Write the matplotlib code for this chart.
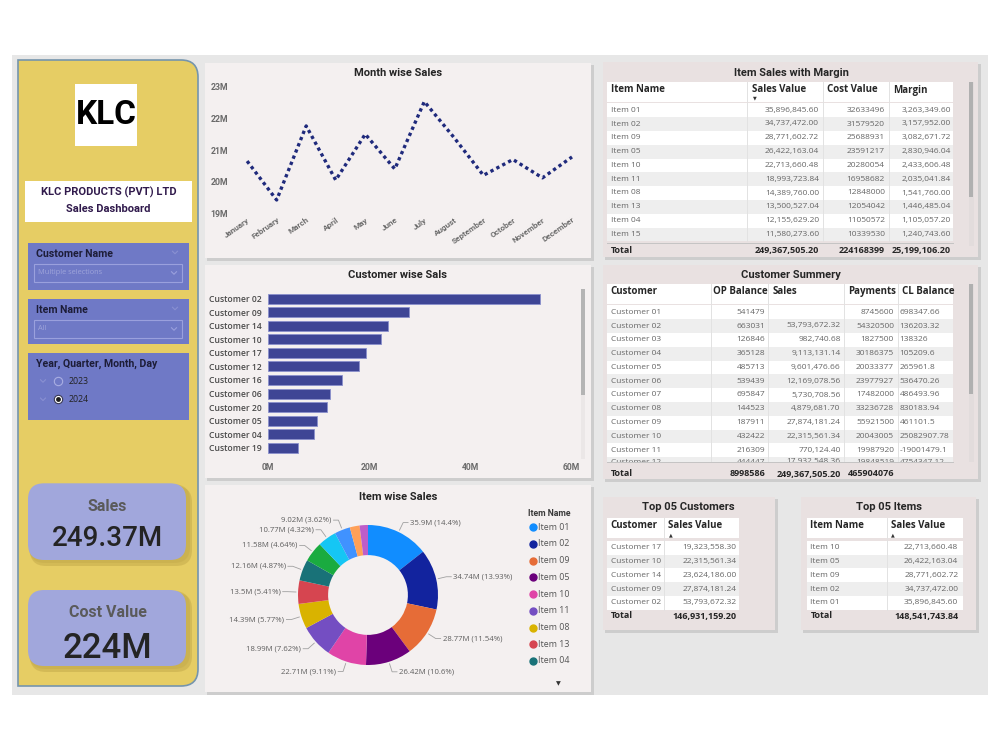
import matplotlib.pyplot as plt
from matplotlib.patches import Rectangle, FancyBboxPatch, PathPatch
from matplotlib.path import Path
import numpy as np

plt.rcParams['font.family'] = ['Open Sans', 'DejaVu Sans']
TITLE = ['Roboto', 'DejaVu Sans']

# ---------------- data ----------------
months = ['January', 'February', 'March', 'April', 'May', 'June', 'July',
          'August', 'September', 'October', 'November', 'December']
month_sales = [20.65, 19.42, 21.76, 20.05, 21.50, 20.40, 22.53, 21.40, 20.20, 20.70, 20.12, 20.78]

cust_names = ['Customer 02', 'Customer 09', 'Customer 14', 'Customer 10', 'Customer 17', 'Customer 12',
              'Customer 16', 'Customer 06', 'Customer 20', 'Customer 05', 'Customer 04', 'Customer 19']
cust_sales = [53.79, 27.87, 23.62, 22.32, 19.32, 17.90, 14.60, 12.17, 11.70, 9.60, 9.11, 5.80]

item_names = ['Item 01', 'Item 02', 'Item 09', 'Item 05', 'Item 10', 'Item 11', 'Item 08',
              'Item 13', 'Item 04', 'Item 15', 'Item 12', 'Item 03', 'Item 14', 'Item 06']
item_sales = [35.8968456, 34.737472, 28.77160272, 26.42216304, 22.71366048, 18.99372384,
              14.38976, 13.50052704, 12.1556292, 11.5802736, 10.77, 9.02, 5.61, 4.81]
item_colors = ['#118DFF', '#12239E', '#E66C37', '#6B007B', '#E044A7', '#744EC2', '#D9B300',
               '#D64550', '#197278', '#1AAB40', '#15C6F4', '#4092FF', '#FFA058', '#BE5DC9']
n_pie_labels = 12
n_legend = 9

tbl_items = ['Item 01', 'Item 02', 'Item 09', 'Item 05', 'Item 10', 'Item 11', 'Item 08',
             'Item 13', 'Item 04', 'Item 15']
tbl_sales = [35896845.60, 34737472.00, 28771602.72, 26422163.04, 22713660.48, 18993723.84,
             14389760.00, 13500527.04, 12155629.20, 11580273.60]
tbl_cost = [32633496, 31579520, 25688931, 23591217, 20280054, 16958682, 12848000, 12054042,
            11050572, 10339530]
total_sales = 249367505.20
total_cost = 224168399

cs_names = ['Customer 01', 'Customer 02', 'Customer 03', 'Customer 04', 'Customer 05', 'Customer 06',
            'Customer 07', 'Customer 08', 'Customer 09', 'Customer 10', 'Customer 11', 'Customer 12']
cs_op = [541479, 663031, 126846, 365128, 485713, 539439, 695847, 144523, 187911, 432422, 216309, 444447]
cs_sales = [None, 53793672.32, 982740.68, 9113131.14, 9601476.66, 12169078.56, 5730708.56,
            4879681.70, 27874181.24, 22315561.34, 770124.40, 17932548.36]
cs_pay = [8745600, 54320500, 1827500, 30186375, 20033377, 23977927, 17482000, 33236728, 55921500,
          20043005, 19987920, 19848519]
cs_cl = ['698347.66', '136203.32', '138326', '105209.6', '265961.8', '536470.26', '486493.96',
         '830183.94', '461101.5', '25082907.78', '-19001479.1', '4754347.12']
cs_total_op = 8998586
cs_total_pay = 465904076

top_cust = ['Customer 17', 'Customer 10', 'Customer 14', 'Customer 09', 'Customer 02']
top_cust_sales = [19323558.30, 22315561.34, 23624186.00, 27874181.24, 53793672.32]
top_items = ['Item 10', 'Item 05', 'Item 09', 'Item 02', 'Item 01']
top_item_sales = [22713660.48, 26422163.04, 28771602.72, 34737472.00, 35896845.60]

# ---------------- canvas ----------------
fig = plt.figure(figsize=(10, 7.5), dpi=100)
bg = fig.add_axes([0, 0, 1, 1])
bg.set_xlim(0, 1000)
bg.set_ylim(750, 0)
bg.axis('off')


def px_axes(x0, y0, x1, y1):
    return fig.add_axes([x0 / 1000, 1 - y1 / 750, (x1 - x0) / 1000, (y1 - y0) / 750])


def rect(x0, y0, x1, y1, fc, z=1, ec='none', lw=0):
    p = Rectangle((x0, y0), x1 - x0, y1 - y0, facecolor=fc, edgecolor=ec, linewidth=lw, zorder=z)
    bg.add_patch(p)
    return p


def rrect(x0, y0, x1, y1, fc, r, z=1, alpha=1.0):
    p = FancyBboxPatch((x0, y0), x1 - x0, y1 - y0, boxstyle=f'round,pad=0,rounding_size={r}',
                       facecolor=fc, edgecolor='none', zorder=z, alpha=alpha)
    bg.add_patch(p)
    return p


def text(x, y, s, size, color='#333333', weight='normal', ha='left', va='center', family=None, z=6):
    kw = {'family': family} if family else {}
    return bg.text(x, y, s, fontsize=size, color=color, fontweight=weight, ha=ha, va=va,
                   zorder=z, **kw)


def chevron(x, y, color, w=5, h=2.5):
    bg.plot([x - w / 2, x, x + w / 2], [y - h / 2, y + h / 2, y - h / 2], color=color, lw=0.8, zorder=6)


def money(v):
    return f'{v:,.2f}'


rect(12, 55, 988, 695, '#e7e7e7', z=0)

# ---------------- left panel ----------------
r = 17
x0, y0, x1, y1 = 18, 60, 198, 686
verts = [(x0, y0), (x1 - r, y0), (x1, y0), (x1, y0 + r), (x1, y1 - r), (x1, y1), (x1 - r, y1),
         (x0, y1), (x0, y0)]
codes = [Path.MOVETO, Path.LINETO, Path.CURVE3, Path.CURVE3, Path.LINETO, Path.CURVE3, Path.CURVE3,
         Path.LINETO, Path.CLOSEPOLY]
bg.add_patch(PathPatch(Path(verts, codes), facecolor='#e6cd64', edgecolor='#7595ad', lw=1.2, zorder=1))

rect(75, 84, 137, 146, 'white', z=3)
text(106, 115.5, 'KLC', 24, 'black', 'bold', ha='center', family=TITLE)

rect(25, 181, 192, 222, 'white', z=3)
text(108.5, 192.7, 'KLC PRODUCTS (PVT) LTD', 8, '#301a4c', 'bold', ha='center', family=TITLE)
text(108.5, 209.3, 'Sales Dashboard', 8, '#301a4c', 'bold', ha='center', family=TITLE)


def slicer(top, bottom, title, value):
    rect(28, top, 189, bottom, '#6f79c6', z=3)
    text(35.7, top + 11, title, 7.6, '#1d1d38', 'bold', family=TITLE)
    chevron(175, top + 9.5, '#8990d2')
    rect(34, top + 21, 182, top + 39, 'none', z=4, ec='#9aa0dd', lw=0.8)
    text(37.5, top + 30, value, 5.3, '#9ea4da')
    chevron(174, top + 30, '#9aa0dd')


slicer(243, 290, 'Customer Name', 'Multiple selections')
slicer(299, 344, 'Item Name', 'All')

rect(28, 353, 189, 420, '#6f79c6', z=3)
text(35.7, 363.5, 'Year, Quarter, Month, Day', 7.6, '#1d1d38', 'bold', family=TITLE)
for yy, yr, on in [(381, '2023', False), (399.3, '2024', True)]:
    chevron(43, yy, '#8990d2')
    if on:
        bg.plot([57.7], [yy], 'o', ms=6, mfc='#ffffff', mec='#3a3a55', mew=0.8, zorder=6)
        bg.plot([57.7], [yy], 'o', ms=3.5, mfc='#1c1c1c', mec='none', zorder=7)
    else:
        bg.plot([57.7], [yy], 'o', ms=6, mfc='none', mec='#a9aee2', mew=0.8, zorder=6)
    text(69, yy, yr, 6.3, '#222222')


def card(top, bottom, label, value, vsize, ly, vy):
    rrect(30, top + 3, 192, bottom + 6, '#c5ab4c', 16, z=2, alpha=0.55)
    rrect(29, top + 1, 190, bottom + 3, '#c5ab4c', 16, z=2, alpha=0.5)
    rrect(28, top, 186, bottom, '#a1a7dc', 16, z=3)
    text(107.5, top + ly, label, 11.5, '#5a5a5a', 'bold', ha='center', family=TITLE)
    text(107.5, top + vy, value, vsize, '#242424', 'medium', ha='center', family=TITLE)


card(483.3, 560, 'Sales', '249.37M', 20, 23.4, 55)
card(590, 666, 'Cost Value', '224M', 25, 22.3, 58.3)


# ---------------- chart panels ----------------
def panel(x0, y0, x1, y1, fc):
    rect(x0 + 1.5, y0 + 1.5, x1 + 2.5, y1 + 2.5, '#cdcdcd', z=1)
    rect(x0, y0, x1, y1, fc, z=2)


panel(205, 63, 591, 258, '#f4f0f0')
panel(205, 265, 591, 478, '#f4f0f0')
panel(205, 485, 591, 692, '#f4f0f0')
text(398, 72.7, 'Month wise Sales', 8, '#252525', 'bold', ha='center', family=TITLE)
text(398, 274.5, 'Customer wise Sals', 8, '#252525', 'bold', ha='center', family=TITLE)
text(398, 497, 'Item wise Sales', 8, '#252525', 'bold', ha='center', family=TITLE)

# month line
ax1 = px_axes(235, 86.7, 585, 213.3)
ax1.patch.set_alpha(0)
xm = np.arange(len(months))
ax1.plot(xm, month_sales, color='#1f2a7c', lw=2.4, ls=(0, (1, 1)), dash_capstyle='butt')
ax1.set_xlim(-0.41, 11.44)
ax1.set_ylim(19, 23)
ax1.set_yticks([19, 20, 21, 22, 23])
ax1.set_yticklabels([f'{v}M' for v in [19, 20, 21, 22, 23]], fontsize=6.3, color='#6b6b6b',
                    fontweight='bold', family=TITLE)
ax1.set_xticks(xm)
ax1.set_xticklabels(months, rotation=35, ha='right', rotation_mode='anchor', fontsize=5.9,
                    color='#6b6b6b', fontweight='bold', family=TITLE)
ax1.tick_params(axis='y', length=0, pad=5)
ax1.tick_params(axis='x', length=0, pad=2)
for s in ax1.spines.values():
    s.set_visible(False)

# customer bars
ax2 = px_axes(268.3, 291.9, 571.7, 454.5)
ax2.patch.set_alpha(0)
yc = np.arange(len(cust_names))
ax2.barh(yc, cust_sales, height=0.74, color='#3e4595', edgecolor='#8a90cc', linewidth=0.6)
ax2.set_ylim(len(cust_names) - 0.5, -0.5)
ax2.set_xlim(0, 60)
ax2.set_yticks(yc)
ax2.set_yticklabels(cust_names, fontsize=6.2, color='#4a4a4a', fontweight='semibold')
ax2.set_xticks([0, 20, 40, 60])
ax2.set_xticklabels(['0M', '20M', '40M', '60M'], fontsize=6.2, color='#6b6b6b', fontweight='bold',
                    family=TITLE)
ax2.tick_params(axis='y', length=0, pad=4.5)
ax2.tick_params(axis='x', length=0, pad=6)
for s in ax2.spines.values():
    s.set_visible(False)
rect(580.5, 289, 585, 459, '#ebe7e7', z=3)
rect(581, 289, 584.5, 395, '#b4b4b4', z=4)

# donut
ax3 = px_axes(268, 495, 468, 695)
wedges, _ = ax3.pie(item_sales, colors=item_colors, startangle=90, counterclock=False, radius=1,
                    wedgeprops=dict(width=0.43, edgecolor='none'))
lim = 100 / 70
ax3.set_xlim(-lim, lim)
ax3.set_ylim(-lim, lim)
ax3.axis('off')
tot = total_sales / 1e6


def fmt(v):
    return f'{v:.2f}'.rstrip('0').rstrip('.')


for i in range(n_pie_labels):
    w = wedges[i]
    ang = np.deg2rad((w.theta1 + w.theta2) / 2)
    cx, cy = np.cos(ang), np.sin(ang)
    ex, ey = 1.15 * cx, 1.15 * cy
    side = 1 if cx >= 0 else -1
    ax3.plot([1.03 * cx, ex, ex + side * 0.07], [1.03 * cy, ey, ey], color='#a0a0a0', lw=0.6,
             clip_on=False)
    lab = f'{fmt(item_sales[i])}M ({fmt(item_sales[i] / tot * 100)}%)'
    ax3.text(ex + side * 0.1, ey, lab, ha='left' if side > 0 else 'right', va='center',
             fontsize=5.6, color='#5f5f5f')

text(528, 514, 'Item Name', 6.3, '#3a3a3a', 'bold', family=TITLE)
for i in range(n_legend):
    yy = 527.3 + i * 16.7
    bg.plot([532.5], [yy], 'o', ms=5, color=item_colors[i], zorder=6)
    text(537.5, yy, item_names[i], 6.4, '#555555')
text(558, 684, '▼', 4.5, '#333333', ha='center', family=['DejaVu Sans'])

# ---------------- tables ----------------
HDR = '#262626'
BODY = '#666666'
TBG = '#e9e1e1'


def tpanel(x0, y0, x1, y1, title, tx):
    rect(x0 + 1.5, y0 + 1.5, x1 + 2.5, y1 + 2.5, '#cdcdcd', z=1)
    rect(x0, y0, x1, y1, TBG, z=2)
    text(tx, y0 + 10.5, title, 8, HDR, 'bold', ha='center', family=TITLE)


def rows_bg(left, right, top, n, rh, bottom=None):
    for i in range(n):
        ya = top + i * rh
        yb = ya + rh
        if bottom is not None:
            yb = min(yb, bottom)
        rect(left, ya, right, yb, '#ffffff' if i % 2 == 0 else '#eeeeee', z=3)


RH = 13.8

# Item Sales with Margin
tpanel(603, 62, 978, 257, 'Item Sales with Margin', 791)
rect(607, 81.7, 953, 101.7, 'white', z=3)
rows_bg(607, 953, 103.3, len(tbl_items), RH)
for xs in [747, 823, 889]:
    bg.plot([xs, xs], [81.7, 103.3 + len(tbl_items) * RH], color='#e2e2e2', lw=0.7, zorder=4)
bg.plot([607, 953], [242.7, 242.7], color='#c4c4c4', lw=0.7, zorder=4)
for xh, h in [(610.7, 'Item Name'), (751.7, 'Sales Value'), (826.7, 'Cost Value'), (892.7, 'Margin')]:
    text(xh, 90, h, 7, HDR, 'bold')
text(755, 98.2, '▼', 3.5, '#333333', ha='center', family=['DejaVu Sans'])
for i, nm in enumerate(tbl_items):
    yy = 103.3 + i * RH + RH / 2
    text(610.7, yy, nm, 6, BODY)
    text(819, yy, money(tbl_sales[i]), 6, BODY, ha='right')
    text(885, yy, str(tbl_cost[i]), 6, BODY, ha='right')
    text(950.7, yy, money(tbl_sales[i] - tbl_cost[i]), 6, BODY, ha='right')
text(610.7, 250.7, 'Total', 6.5, HDR, 'bold')
text(819, 250.7, money(total_sales), 6.5, HDR, 'bold', ha='right')
text(885, 250.7, str(total_cost), 6.5, HDR, 'bold', ha='right')
text(950.7, 250.7, money(total_sales - total_cost), 6.5, HDR, 'bold', ha='right')
rect(968.5, 82, 973.5, 246, '#e2dcdc', z=3)
rect(969, 82, 973, 197, '#b0b0b0', z=4)

# Customer Summery (last row only partly visible, cut by the scroll area)
tpanel(603, 265, 978, 479, 'Customer Summery', 791)
rect(607, 283.7, 953, 303.7, 'white', z=3)
cut = 461.5
rows_bg(607, 953, 305.3, len(cs_names), RH, bottom=cut)
for xs in [710.7, 768.3, 844, 897.7]:
    bg.plot([xs, xs], [283.7, cut], color='#e2e2e2', lw=0.7, zorder=4)
for xh, h in [(610.7, 'Customer'), (712.7, 'OP Balance'), (772.7, 'Sales'), (848, 'Payments'),
              (901.7, 'CL Balance')]:
    text(xh, 291.3, h, 7, HDR, 'bold')
for i, nm in enumerate(cs_names):
    yy = 305.3 + i * RH + RH / 2
    if i == len(cs_names) - 1:
        yy = cut + 0.5
    text(610.7, yy, nm, 6, BODY)
    text(765, yy, str(cs_op[i]), 6, BODY, ha='right')
    text(840.7, yy, money(cs_sales[i]) if cs_sales[i] is not None else '', 6, BODY, ha='right')
    text(894, yy, str(cs_pay[i]), 6, BODY, ha='right')
    text(899.5, yy, cs_cl[i], 6, BODY)
rect(605, cut, 960, 468, TBG, z=6.5)
bg.plot([607, 953], [cut + 0.5, cut + 0.5], color='#c4c4c4', lw=0.7, zorder=6.6)
ty = 474
text(610.7, ty, 'Total', 6.5, HDR, 'bold', z=7)
text(765, ty, str(cs_total_op), 6.5, HDR, 'bold', ha='right', z=7)
text(840.7, ty, money(total_sales), 6.5, HDR, 'bold', ha='right', z=7)
text(894, ty, str(cs_total_pay), 6.5, HDR, 'bold', ha='right', z=7)
rect(968.5, 283.7, 973.5, 462, '#e2dcdc', z=7)
rect(969, 283.7, 973, 393.7, '#b0b0b0', z=7.5)


# Top 05 tables
def top_table(x0, x1, title, tx, names, vals, hname, left, right, sep, vx, hx):
    tpanel(x0, 497, x1, 630, title, tx)
    rect(left, 517.7, right, 537.7, 'white', z=3)
    rows_bg(left, right, 540.8, len(names), RH)
    bg.plot([sep, sep], [517.7, 540.8 + len(names) * RH], color='#e2e2e2', lw=0.7, zorder=4)
    text(left + 3.7, 525.7, hname, 7, HDR, 'bold')
    text(hx, 525.7, 'Sales Value', 7, HDR, 'bold')
    text(hx + 2.5, 535, '▲', 3.5, '#333333', ha='center', family=['DejaVu Sans'])
    for i, nm in enumerate(names):
        yy = 540.8 + i * RH + RH / 2
        text(left + 3.7, yy, nm, 6, BODY)
        text(vx, yy, money(vals[i]), 6, BODY, ha='right')
    text(left + 3.7, 616, 'Total', 6.5, HDR, 'bold')
    text(vx, 616, money(sum(vals)), 6.5, HDR, 'bold', ha='right')


top_table(603, 775, 'Top 05 Customers', 688, top_cust, top_cust_sales, 'Customer', 607, 739, 664,
          736.7, 668)
top_table(801, 976, 'Top 05 Items', 889, top_items, top_item_sales, 'Item Name', 806.7, 962.7, 887,
          958.3, 890.7)

fig.savefig('out.png', dpi=100)
